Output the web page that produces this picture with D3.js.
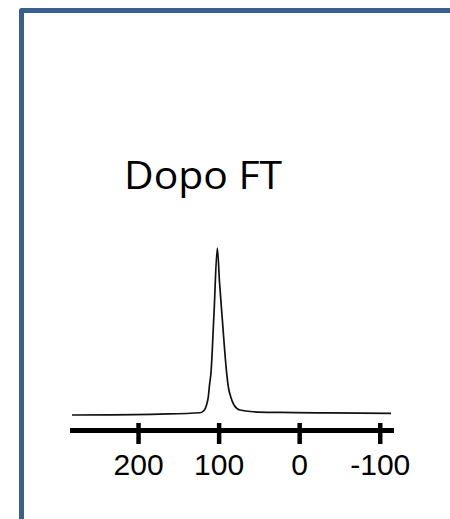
<!DOCTYPE html>
<html>
<head>
<meta charset="utf-8">
<script src="https://cdn.jsdelivr.net/npm/d3@7"></script>
<style>
  html, body { margin: 0; padding: 0; background: #ffffff; }
  svg { display: block; }
</style>
</head>
<body>
<svg id="chart" width="450" height="519"></svg>
<script>
// ---- Data ----
const title = "Dopo FT";
// chemical shift (ppm), descending
const shifts = [282, 234.8, 172.8, 123.1, 118.1, 115.0, 112.8, 111.3, 109.5, 105.7, 101.6, 98.9, 95.8, 90.0, 87.7, 85.0, 80.9, 73.5, 57.3, 23.8, -38.3, -114];
// relative intensity
const intensity = [2.9, 3.0, 3.4, 4.2, 5.5, 8.7, 13.5, 20.3, 27.3, 62.2, 100, 80.2, 61.0, 27.3, 18.6, 13.5, 8.7, 5.8, 4.8, 4.4, 4.1, 3.9];
const tickValues = [200, 100, 0, -100];
const tickLabels = ["200", "100", "0", "-100"];

// ---- Layout ----
const svg = d3.select("#chart");
const frameColor = "#3a5f8b";

// frame (top and left edges)
svg.append("path")
  .attr("d", d3.line()([[21.5, 519], [21.5, 10.5], [450, 10.5]]))
  .attr("fill", "none")
  .attr("stroke", frameColor)
  .attr("stroke-width", 5)
  .attr("stroke-linejoin", "round");

const x = d3.scaleLinear().domain([282, -114]).range([72, 391]);
const y = d3.scaleLinear().domain([0, 100]).range([420, 248]);

// title
svg.append("text")
  .attr("x", 124)
  .attr("y", 189)
  .attr("font-family", "'Open Sans', 'Noto Sans', sans-serif")
  .attr("font-size", 39)
  .attr("textLength", 158)
  .attr("lengthAdjust", "spacingAndGlyphs")
  .attr("fill", "#000")
  .text(title);

// spectrum line
const pts = shifts.map((s, i) => [s, intensity[i]]);
svg.append("path")
  .datum(pts)
  .attr("fill", "none")
  .attr("stroke", "#111")
  .attr("stroke-width", 1.7)
  .attr("stroke-linejoin", "round")
  .attr("d", d3.line().x(d => x(d[0])).y(d => y(d[1])).curve(d3.curveMonotoneX));

// axis
const axis = d3.axisBottom(x)
  .tickValues(tickValues)
  .tickFormat((d, i) => tickLabels[i])
  .tickSizeInner(13)
  .tickSizeOuter(0)
  .tickPadding(16);

const gAxis = svg.append("g")
  .attr("transform", "translate(0,430)")
  .call(axis);

gAxis.select(".domain")
  .attr("stroke", "#000")
  .attr("stroke-width", 5)
  .attr("stroke-linecap", "square");

gAxis.selectAll(".tick line")
  .attr("stroke", "#000")
  .attr("stroke-width", 4.5)
  .attr("y1", -7)
  .attr("y2", 14);

gAxis.selectAll(".tick text")
  .attr("fill", "#000")
  .attr("font-family", "'Liberation Sans', Arial, sans-serif")
  .attr("font-size", 30)
  .attr("dy", 0)
  .attr("y", 45);
</script>
</body>
</html>
